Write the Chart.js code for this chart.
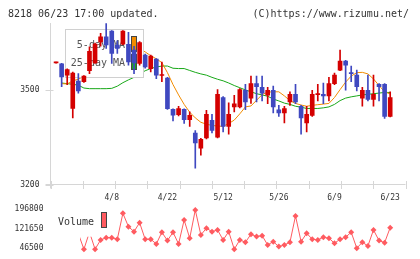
<!DOCTYPE html>
<html>
<head>
<meta charset="utf-8">
<script src="https://cdn.jsdelivr.net/npm/chart.js@4.4.1/dist/chart.umd.min.js"></script>
<style>
  html, body { margin: 0; padding: 0; background: #fff; }
  #wrap { position: relative; width: 420px; height: 259px; }
  #wrap canvas { position: absolute; left: 0; top: 0; }
</style>
</head>
<body>
<div id="wrap">
  <canvas id="price" width="420" height="259"></canvas>
  <canvas id="volume" width="420" height="259"></canvas>
</div>
<script>
// --- DATA ---
const openP  = [3587,3584,3548,3442,3529,3527,3562,3587,3654,3670,3688,3644,3647,3646,3628,3585,3612,3569,3599,3547,
                3539,3439,3422,3439,3406,3364,3316,3348,3404,3351,3477,3385,3447,3447,3500,3475,3521,3509,3484,3500,
                3438,3428,3463,3487,3449,3396,3420,3486,3487,3482,3521,3564,3593,3556,3548,3475,3500,3471,3519,3519,3417];
const highP  = [3590,3586,3568,3558,3553,3547,3638,3650,3681,3712,3690,3657,3690,3684,3640,3655,3615,3612,3601,3590,
                3541,3441,3449,3441,3431,3372,3347,3436,3423,3502,3480,3460,3484,3505,3519,3545,3545,3545,3509,3513,
                3452,3449,3495,3519,3452,3449,3500,3519,3523,3541,3555,3628,3595,3577,3564,3509,3548,3548,3521,3521,3495];
const lowP   = [3586,3511,3518,3412,3491,3525,3553,3585,3640,3633,3585,3617,3645,3580,3553,3580,3570,3558,3537,3527,
                3439,3402,3418,3394,3385,3252,3293,3345,3364,3348,3367,3360,3431,3444,3438,3458,3463,3466,3457,3428,
                3417,3396,3452,3457,3360,3367,3417,3466,3457,3466,3518,3562,3500,3527,3498,3449,3466,3449,3466,3410,3415];
const closeP = [3589,3542,3566,3555,3498,3545,3624,3647,3670,3644,3617,3633,3688,3590,3587,3652,3574,3609,3548,3549,
                3441,3421,3442,3406,3420,3332,3344,3423,3372,3487,3385,3423,3457,3502,3463,3521,3511,3491,3500,3447,
                3428,3442,3487,3463,3412,3423,3487,3488,3482,3521,3548,3593,3580,3553,3511,3500,3471,3487,3511,3417,3477];
const ma5    = [null,3521,3520,3530,3535,3545,3560,3580,3605,3630,3640,3645,3650,3640,3632,3632,3622,3610,3600,3588,
                3556,3518,3485,3455,3430,3412,3398,3392,3388,3386,3385,3394,3405,3425,3447,3450,3468,3486,3494,3495,
                3495,3482,3467,3458,3453,3449,3452,3454,3456,3458,3477,3502,3526,3545,3556,3557,3552,3536,3515,3495,3488];
const ma25   = [null,3523,3521,3519,3516,3507,3505,3505,3505,3505,3506,3513,3524,3533,3541,3552,3562,3569,3574,3577,
                3577,3570,3569,3569,3563,3557,3552,3548,3541,3535,3530,3523,3515,3508,3501,3495,3489,3485,3481,3472,
                3466,3459,3455,3449,3446,3442,3442,3442,3444,3447,3455,3467,3475,3479,3482,3485,3487,3489,3491,3493,3493];
const volume = [null,null,null,null,102000,42700,108000,42700,78200,87000,87000,80900,180300,129100,110000,144400,80900,80900,62900,107700,
                75600,107700,62900,154700,84700,193000,97400,123000,110000,116500,78200,110000,42700,78200,69400,100000,90900,94700,59100,71700,
                52600,59100,69400,170000,71700,103900,80900,78200,88600,84700,65600,80900,88600,107700,46500,69400,55300,116500,75600,67900,125300];
const dateIdx  = [10, 20, 30, 40, 50, 60];
const dateText = ['4/8', '4/22', '5/12', '5/26', '6/9', '6/23'];
const priceTicks  = [3200, 3500];
const volumeTicks = [46500, 121650, 196800];

// --- STYLE ---
const RED = '#d40000', BLUE = '#3f48c0', ORANGE = '#f28c00', GREEN = '#18a818', VOL = '#ff5b60';
const GRID = '#d6d6d6', TEXT = '#333';
const MONO = '"DejaVu Sans Mono", monospace';
const X_MIN = -1, X_MAX = 62.75;
const LEFT = 50.5, RIGHT = 405.5;

const candleColor = c => closeP[c.dataIndex] >= openP[c.dataIndex] ? RED : BLUE;

// --- 1. PRICE PANEL: axes, ticks, header; legend goes between MA lines and candles ---
const priceFrame = {
    id: 'priceFrame',
    beforeDatasetsDraw(chart) {
        const { ctx, chartArea: a, scales: { x, y } } = chart;
        ctx.save();
        ctx.strokeStyle = GRID;
        ctx.lineWidth = 1;
        ctx.beginPath();
        ctx.moveTo(a.left, a.top); ctx.lineTo(a.left, a.bottom + 4);
        ctx.moveTo(a.left - 5, a.bottom); ctx.lineTo(a.right, a.bottom);
        for (let k = 0; k <= 11; k++) {
            const px = Math.round(a.left + k * (a.right - a.left) / 11) + 0.5;
            ctx.moveTo(px, a.bottom - 3.5); ctx.lineTo(px, a.bottom + 4.5);
        }
        priceTicks.forEach(v => {
            const py = Math.round(y.getPixelForValue(v)) + 0.5;
            ctx.moveTo(a.left - 5, py); ctx.lineTo(a.left + 3, py);
        });
        ctx.stroke();

        ctx.fillStyle = TEXT;
        ctx.font = '8px ' + MONO;
        ctx.textBaseline = 'middle';
        ctx.textAlign = 'right';
        priceTicks.forEach(v => ctx.fillText(String(v), 39.5, y.getPixelForValue(v)));
        ctx.textAlign = 'center';
        dateIdx.forEach((d, k) => ctx.fillText(dateText[k], x.getPixelForValue(d), 198));

        ctx.font = '10px ' + MONO;
        ctx.textAlign = 'left';
        ctx.fillText('8218 06/23 17:00 updated.', 8, 14);
        ctx.textAlign = 'right';
        ctx.fillText('(C)https://www.rizumu.net/', 409, 14);
        ctx.restore();
    },
    beforeDatasetDraw(chart, args) {
        if (args.index !== 2) return; // just before the wicks
        const ctx = chart.ctx;
        ctx.save();
        ctx.fillStyle = '#fff';
        ctx.fillRect(66, 30, 77, 47);
        ctx.strokeStyle = '#d0d0d0';
        ctx.lineWidth = 1;
        ctx.strokeRect(65.5, 29.5, 78, 48);
        ctx.fillStyle = '#555';
        ctx.font = '10px ' + MONO;
        ctx.textBaseline = 'middle';
        ctx.textAlign = 'right';
        ctx.fillText('5-day MA', 125, 45);
        ctx.fillText('25-day MA', 125, 63);
        ctx.strokeStyle = '#444';
        ctx.fillStyle = ORANGE;
        ctx.fillRect(131.5, 36.5, 5, 15); ctx.strokeRect(131.5, 36.5, 5, 15);
        ctx.fillStyle = GREEN;
        ctx.fillRect(131.5, 54.5, 5, 15); ctx.strokeRect(131.5, 54.5, 5, 15);
        ctx.restore();
    }
};

new Chart(document.getElementById('price'), {
    type: 'bar',
    data: {
        datasets: [
            { type: 'line', label: '25-day MA', data: ma25.map((v, i) => ({ x: i, y: v })),
              borderColor: GREEN, borderWidth: 1, pointRadius: 0, order: 4 },
            { type: 'line', label: '5-day MA', data: ma5.map((v, i) => ({ x: i, y: v })),
              borderColor: ORANGE, borderWidth: 1, pointRadius: 0, order: 3 },
            { label: 'wick', data: highP.map((h, i) => ({ x: i, y: [lowP[i], h] })),
              backgroundColor: candleColor, barThickness: 1, grouped: false, order: 2 },
            { label: 'body', data: openP.map((o, i) => ({ x: i, y: [o, closeP[i]] })),
              backgroundColor: candleColor, barThickness: 4, minBarLength: 1, grouped: false, order: 1 }
        ]
    },
    options: {
        responsive: false,
        animation: false,
        devicePixelRatio: 1,
        layout: { padding: { left: LEFT, right: 420 - RIGHT, top: 23, bottom: 259 - 184.5 } },
        scales: {
            x: { type: 'linear', min: X_MIN, max: X_MAX, offset: false, display: false },
            y: { min: 3200, max: 3714, display: false }
        },
        plugins: { legend: { display: false }, tooltip: { enabled: false } }
    },
    plugins: [priceFrame]
});

// --- 2. VOLUME PANEL ---
const VOL_LEFT = 80;
const volMin = X_MIN + (VOL_LEFT - LEFT) * (X_MAX - X_MIN) / (RIGHT - LEFT);

const volumeFrame = {
    id: 'volumeFrame',
    afterDatasetsDraw(chart) {
        const { ctx, scales: { y } } = chart;
        ctx.save();
        // legend sits on a white patch over the line
        ctx.fillStyle = '#fff';
        ctx.fillRect(50, 200, 53, 36.7);
        ctx.fillStyle = TEXT;
        ctx.font = '10px ' + MONO;
        ctx.textBaseline = 'middle';
        ctx.textAlign = 'left';
        ctx.fillText('Volume', 58, 222);
        ctx.fillStyle = VOL;
        ctx.strokeStyle = '#444';
        ctx.fillRect(101.5, 212.5, 5, 15); ctx.strokeRect(101.5, 212.5, 5, 15);

        ctx.fillStyle = TEXT;
        ctx.font = '8px ' + MONO;
        ctx.textAlign = 'right';
        volumeTicks.forEach(v => ctx.fillText(String(v), 43.5, y.getPixelForValue(v)));
        ctx.restore();
    }
};

new Chart(document.getElementById('volume'), {
    type: 'line',
    data: {
        datasets: [{
            label: 'Volume',
            data: volume.map((v, i) => ({ x: i, y: v })),
            borderColor: VOL, backgroundColor: VOL, borderWidth: 1,
            pointStyle: 'rectRot', pointRadius: 3, pointBorderWidth: 0,
            clip: { left: 0, top: 10, right: 10, bottom: 10 }
        }]
    },
    options: {
        responsive: false,
        animation: false,
        devicePixelRatio: 1,
        layout: { padding: { left: VOL_LEFT, right: 420 - RIGHT, top: 205, bottom: 7 } },
        scales: {
            x: { type: 'linear', min: volMin, max: X_MAX, offset: false, display: false },
            y: { min: 32000, max: 212000, display: false }
        },
        plugins: { legend: { display: false }, tooltip: { enabled: false } }
    },
    plugins: [volumeFrame]
});
</script>
</body>
</html>
